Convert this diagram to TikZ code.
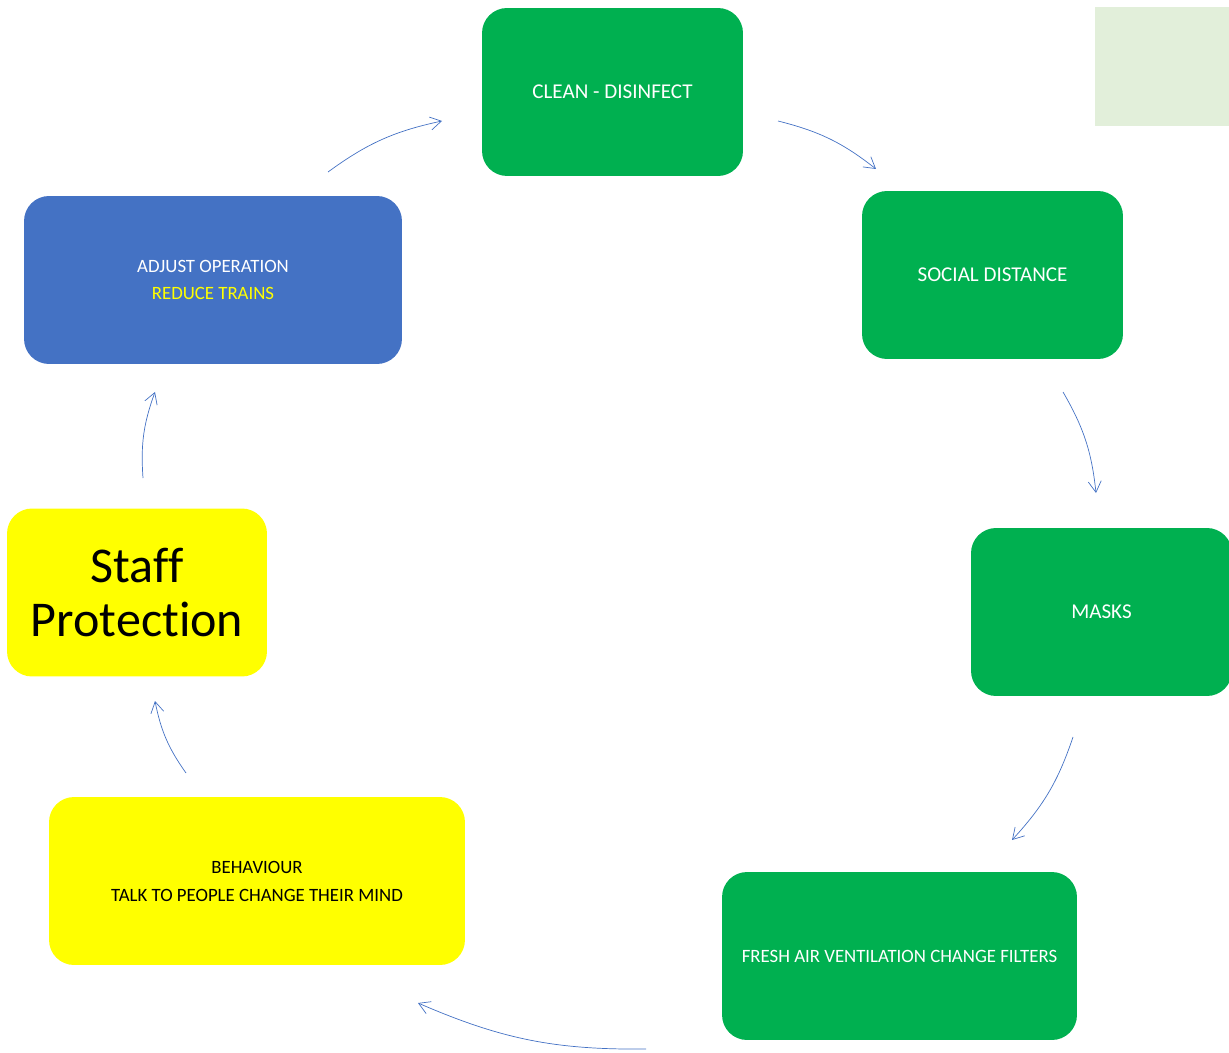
\documentclass[tikz,border=0pt]{standalone}
\usepackage{fontspec}
\setmainfont[Ligatures=NoCommon]{Carlito}
\usetikzlibrary{arrows.meta}
\definecolor{boxgreen}{HTML}{00B050}
\definecolor{boxblue}{HTML}{4472C4}
\definecolor{boxyellow}{HTML}{FFFF00}
\definecolor{palegreen}{HTML}{E2EFDA}
\tikzstyle{process} = [rectangle, rounded corners=0.5cm, minimum height=3.36cm, align=center, font=\fontsize{10.7}{15.9}\selectfont]
\tikzstyle{greenbox} = [process, fill=boxgreen, text=white, minimum width=5.22cm, font=\fontsize{12}{15.9}\selectfont]
\tikzstyle{arrow} = [draw=boxblue, line width=0.4pt, -{Straight Barb[length=2.2mm, width=2.6mm]}, bend left=12]

\begin{document}
\begin{tikzpicture}[x=0.02cm, y=-0.02cm]
\useasboundingbox (0,0) rectangle (1229,1053);
\fill[palegreen] (1095,7) rectangle (1229,126);

\node (clean) [greenbox] at (612.5,92) {CLEAN - DISINFECT};
\node (distance) [greenbox] at (992.5,275) {SOCIAL DISTANCE};
\node (masks) [greenbox] at (1101.5,612) {MASKS};
\node (freshair) [greenbox, minimum width=7.1cm, font=\fontsize{10.7}{15.9}\selectfont] at (899.5,956) {FRESH AIR VENTILATION CHANGE FILTERS};
\node (behaviour) [process, fill=boxyellow, minimum width=8.32cm] at (257,881) {BEHAVIOUR\\TALK TO PEOPLE CHANGE THEIR MIND};
\node (staff) [process, fill=boxyellow, minimum width=5.2cm, font=\fontsize{28.5}{31}\selectfont] at (137,592.5) {Staff\\Protection};
\node (adjust) [process, fill=boxblue, text=white, minimum width=7.56cm] at (213,280) {ADJUST OPERATION\\\textcolor{boxyellow}{REDUCE TRAINS}};

\coordinate (a1) at (328,172); \coordinate (b1) at (442,121);
\coordinate (a2) at (778,121); \coordinate (b2) at (876,169);
\coordinate (a3) at (1063,392); \coordinate (b3) at (1096,493);
\coordinate (a4) at (1073,737); \coordinate (b4) at (1012,840);
\coordinate (a5) at (646,1049); \coordinate (b5) at (418,1003);
\coordinate (a6) at (186,773); \coordinate (b6) at (155,701);
\coordinate (a7) at (143,478); \coordinate (b7) at (155,392);

\draw [arrow] (a1) to (b1);
\draw [arrow] (a2) to (b2);
\draw [arrow] (a3) to (b3);
\draw [arrow] (a4) to (b4);
\draw [arrow] (a5) to (b5);
\draw [arrow] (a6) to (b6);
\draw [arrow] (a7) to (b7);
\end{tikzpicture}
\end{document}
